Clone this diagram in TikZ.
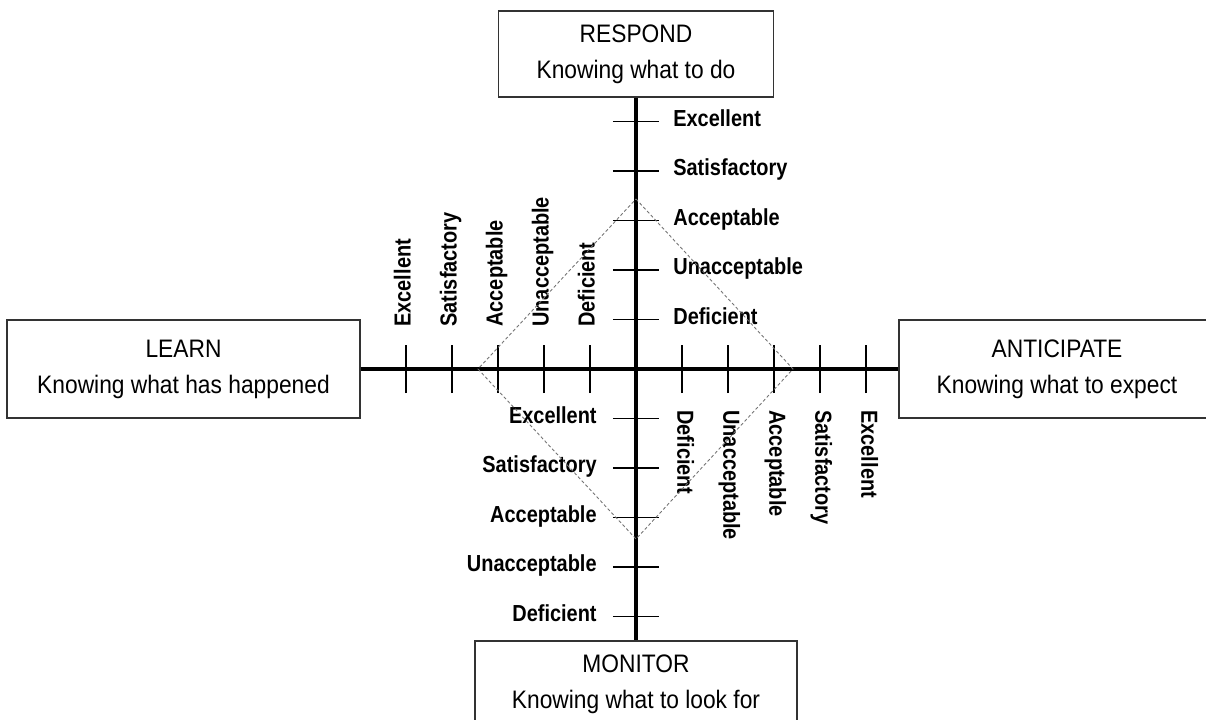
\documentclass[tikz,border=0pt]{standalone}
\usepackage{fontspec}
\setmainfont{Liberation Sans}
\newfontfamily\boxfont[FakeStretch=0.9]{Liberation Sans}
\newfontfamily\lvlfont[FakeStretch=0.86]{Liberation Sans}

\begin{document}
\begin{tikzpicture}[
		box/.style={draw=black!80, line width=0.75pt, inner sep=0pt, align=center, font=\boxfont\fontsize{14.4}{20.5}\selectfont},
		lvl/.style={inner sep=0pt, font=\lvlfont\bfseries\fontsize{13.2}{15}\selectfont},
		axisline/.style={line width=2.3pt},
		tickline/.style={line width=0.95pt},
		grade/.style={black!55, line width=0.5pt, dash pattern=on 1.8pt off 1.3pt}
	]
				\useasboundingbox (-12.72,-7.02) rectangle (11.40,7.38);
				% the four abilities
				\node[box, minimum width=5.5cm, minimum height=1.72cm] (RESPOND) at (0,6.30) {RESPOND\\Knowing what to do};
				\node[box, minimum width=7.06cm, minimum height=1.96cm] (LEARN) at (-9.05,0) {LEARN\\Knowing what has happened};
				\node[box, minimum width=6.32cm, minimum height=1.96cm] (ANTICIPATE) at (8.42,0) {ANTICIPATE\\Knowing what to expect};
				\node[box, minimum width=6.44cm, minimum height=1.72cm] (MONITOR) at (0,-6.30) {MONITOR\\Knowing what to look for};
				
				\draw[axisline] (RESPOND.south) -- (MONITOR.north);
				\draw[axisline] (LEARN.east) -- (ANTICIPATE.west);
				
				% ticks
				\draw[tickline] (-0.46,0.99) -- (0.46,0.99) (-0.46,1.98) -- (0.46,1.98) (-0.46,2.97) -- (0.46,2.97) (-0.46,3.96) -- (0.46,3.96) (-0.46,4.95) -- (0.46,4.95);
				\draw[tickline] (-0.46,-0.99) -- (0.46,-0.99) (-0.46,-1.98) -- (0.46,-1.98) (-0.46,-2.97) -- (0.46,-2.97) (-0.46,-3.96) -- (0.46,-3.96) (-0.46,-4.95) -- (0.46,-4.95);
				\draw[tickline] (0.92,-0.48) -- (0.92,0.48) (1.84,-0.48) -- (1.84,0.48) (2.76,-0.48) -- (2.76,0.48) (3.68,-0.48) -- (3.68,0.48) (4.60,-0.48) -- (4.60,0.48);
				\draw[tickline] (-0.92,-0.48) -- (-0.92,0.48) (-1.84,-0.48) -- (-1.84,0.48) (-2.76,-0.48) -- (-2.76,0.48) (-3.68,-0.48) -- (-3.68,0.48) (-4.60,-0.48) -- (-4.60,0.48);
				
				% respond scale
				\node[lvl, anchor=mid west] (R1) at (0.74,0.99) {Deficient};
				\node[lvl, anchor=mid west] (R2) at (0.74,1.98) {Unacceptable};
				\node[lvl, anchor=mid west] (R3) at (0.74,2.97) {Acceptable};
				\node[lvl, anchor=mid west] (R4) at (0.74,3.96) {Satisfactory};
				\node[lvl, anchor=mid west] (R5) at (0.74,4.95) {Excellent};
				
				% anticipate scale
				\node[lvl, rotate=-90, anchor=mid west] (A1) at (0.92,-0.82) {Deficient};
				\node[lvl, rotate=-90, anchor=mid west] (A2) at (1.84,-0.82) {Unacceptable};
				\node[lvl, rotate=-90, anchor=mid west] (A3) at (2.76,-0.82) {Acceptable};
				\node[lvl, rotate=-90, anchor=mid west] (A4) at (3.68,-0.82) {Satisfactory};
				\node[lvl, rotate=-90, anchor=mid west] (A5) at (4.60,-0.82) {Excellent};
				
				% monitor scale
				\node[lvl, anchor=mid east] (M1) at (-0.78,-0.99) {Excellent};
				\node[lvl, anchor=mid east] (M2) at (-0.78,-1.98) {Satisfactory};
				\node[lvl, anchor=mid east] (M3) at (-0.78,-2.97) {Acceptable};
				\node[lvl, anchor=mid east] (M4) at (-0.78,-3.96) {Unacceptable};
				\node[lvl, anchor=mid east] (M5) at (-0.78,-4.95) {Deficient};
				
				% learn scale
				\node[lvl, rotate=90, anchor=mid west] (L1) at (-0.92,0.84) {Deficient};
				\node[lvl, rotate=90, anchor=mid west] (L2) at (-1.84,0.84) {Unacceptable};
				\node[lvl, rotate=90, anchor=mid west] (L3) at (-2.76,0.84) {Acceptable};
				\node[lvl, rotate=90, anchor=mid west] (L4) at (-3.68,0.84) {Satisfactory};
				\node[lvl, rotate=90, anchor=mid west] (L5) at (-4.60,0.84) {Excellent};
				
				% current grade
				\draw[grade] (0,3.40) -- (3.14,0) -- (0,-3.40) -- (-3.16,0) -- cycle;
			\end{tikzpicture}
\end{document}
